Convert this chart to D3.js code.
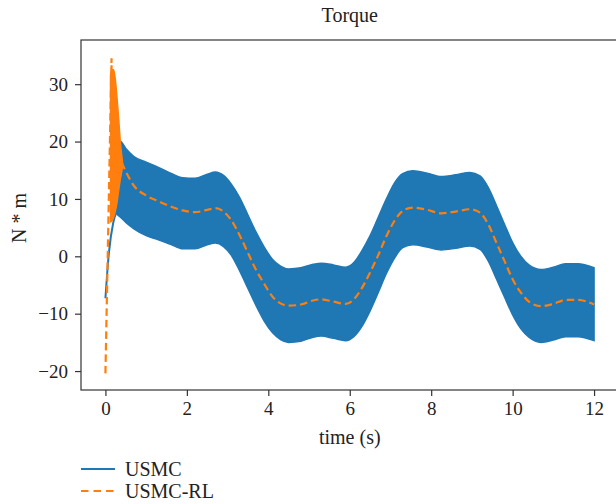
<!DOCTYPE html>
<html>
<head>
<meta charset="utf-8">
<script src="https://cdn.jsdelivr.net/npm/d3@7"></script>
<style>
  html, body { margin: 0; padding: 0; background: #fff; }
  svg { display: block; }
  text { font-family: "Liberation Serif", "Times New Roman", serif; fill: #222; }
</style>
</head>
<body>
<svg id="chart" width="616" height="504"></svg>
<script>
// ---- data ----
const xTicks = [0, 2, 4, 6, 8, 10, 12];
const yTicks = [-20, -10, 0, 10, 20, 30];

// USMC initial transient (single line before chattering band)
const usmcStartT = [0, 0.085, 0.19, 0.27];
const usmcStartV = [-7.3, 0.6, 5.8, 7.8];

// USMC chattering band envelope
const bandT = [0.27, 0.37, 0.5, 0.7, 1.0, 1.3, 1.6, 1.9, 2.2, 2.5, 2.7, 2.9, 3.1, 3.3, 3.5, 3.7, 3.9, 4.1, 4.3, 4.5, 4.8, 5.1, 5.3, 5.6, 5.9, 6.1, 6.3, 6.5, 6.7, 6.9, 7.1, 7.3, 7.55, 7.9, 8.25, 8.6, 8.95, 9.2, 9.4, 9.6, 9.8, 10.0, 10.2, 10.4, 10.7, 11.0, 11.3, 11.6, 12.0];
const bandUpper = [8.2, 20.0, 18.8, 17.4, 16.4, 15.5, 14.5, 13.7, 13.6, 14.3, 14.7, 14.1, 12.5, 10.2, 7.2, 4.2, 1.6, -0.5, -1.7, -2.2, -2.0, -1.4, -1.2, -1.5, -1.9, -1.1, 1.0, 3.6, 6.8, 10.0, 12.8, 14.4, 14.9, 14.5, 13.9, 14.2, 14.6, 14.0, 12.0, 8.9, 5.6, 2.4, 0.0, -1.5, -2.3, -1.9, -1.3, -1.3, -2.0];
const bandLower = [7.4, 6.8, 5.9, 4.8, 3.6, 2.9, 2.1, 1.3, 1.3, 2.0, 2.3, 1.7, 0.1, -2.6, -5.6, -8.6, -11.3, -13.3, -14.5, -15.0, -14.8, -14.1, -13.9, -14.3, -14.7, -14.0, -12.2, -9.5, -6.3, -3.0, -0.3, 1.5, 2.0, 1.6, 1.1, 1.4, 1.8, 1.2, -0.8, -3.9, -7.1, -10.2, -12.6, -14.1, -15.0, -14.6, -14.0, -14.0, -14.7];

// USMC-RL chattering blob (early transient)
const rlBlobT = [0.125, 0.16, 0.2, 0.24, 0.28, 0.32, 0.36, 0.42];
const rlBlobUpper = [31.5, 32.5, 32.5, 31.0, 28.0, 24.5, 20.5, 16.4];
const rlBlobLower = [6.0, 6.2, 6.8, 7.8, 9.2, 11.2, 13.2, 15.6];

// USMC-RL dashed line
const rlT = [0, 0.15, 0.16, 0.42, 0.5, 0.7, 1.0, 1.3, 1.6, 1.9, 2.2, 2.5, 2.7, 2.9, 3.1, 3.3, 3.5, 3.7, 3.9, 4.1, 4.3, 4.5, 4.8, 5.1, 5.3, 5.6, 5.9, 6.1, 6.3, 6.5, 6.7, 6.9, 7.1, 7.3, 7.55, 7.9, 8.25, 8.6, 8.95, 9.2, 9.4, 9.6, 9.8, 10.0, 10.2, 10.4, 10.7, 11.0, 11.3, 11.6, 12.0];
const rlV = [-20.4, 34.5, 6.5, 16.0, 14.8, 12.3, 10.6, 9.6, 8.7, 8.0, 7.7, 8.1, 8.4, 7.8, 6.2, 3.6, 0.6, -2.4, -4.8, -7.0, -8.2, -8.6, -8.4, -7.7, -7.5, -7.9, -8.3, -7.5, -5.5, -2.8, 0.2, 3.5, 6.2, 7.9, 8.5, 8.1, 7.5, 7.8, 8.2, 7.6, 5.6, 2.4, -0.8, -4.0, -6.3, -7.9, -8.7, -8.3, -7.6, -7.6, -8.4];

const seriesNames = ["USMC", "USMC-RL"];
const colors = ["#1f77b4", "#ff7f0e"];

// ---- layout ----
const svg = d3.select("#chart");
const mLeft = 81, mRight = 618.5, mTop = 40, mBottom = 390;
const x = d3.scaleLinear().domain([-0.6, 12.6]).range([mLeft, mRight]);
const y = d3.scaleLinear().domain([-23.3, 37.7]).range([mBottom, mTop]);

svg.append("defs").append("clipPath").attr("id", "clip")
  .append("rect").attr("x", mLeft).attr("y", mTop).attr("width", mRight - mLeft).attr("height", mBottom - mTop);

const plot = svg.append("g").attr("clip-path", "url(#clip)");

// USMC
const startPts = usmcStartT.map((t, i) => [t, usmcStartV[i]]);
plot.append("path")
  .attr("d", d3.line().x(d => x(d[0])).y(d => y(d[1])).curve(d3.curveMonotoneX)(startPts))
  .attr("fill", "none").attr("stroke", colors[0]).attr("stroke-width", 2);

const bandPts = bandT.map((t, i) => ({ t, u: bandUpper[i], l: bandLower[i] }));
plot.append("path")
  .attr("d", d3.area().x(d => x(d.t)).y0(d => y(d.l)).y1(d => y(d.u)).curve(d3.curveMonotoneX)(bandPts))
  .attr("fill", colors[0]).attr("stroke", colors[0]).attr("stroke-width", 1.5);

// USMC-RL
const blobPts = rlBlobT.map((t, i) => ({ t, u: rlBlobUpper[i], l: rlBlobLower[i] }));
plot.append("path")
  .attr("d", d3.area().x(d => x(d.t)).y0(d => y(d.l)).y1(d => y(d.u)).curve(d3.curveMonotoneX)(blobPts))
  .attr("fill", colors[1]).attr("stroke", colors[1]).attr("stroke-width", 1.5);

const rlPts = rlT.map((t, i) => [t, rlV[i]]);
const lineLin = d3.line().x(d => x(d[0])).y(d => y(d[1])).curve(d3.curveLinear);
const lineSmooth = d3.line().x(d => x(d[0])).y(d => y(d[1])).curve(d3.curveMonotoneX);
plot.append("path")
  .attr("d", lineLin(rlPts.slice(0, 4)) + lineSmooth(rlPts.slice(3)).replace(/^M/, "L"))
  .attr("fill", "none").attr("stroke", colors[1]).attr("stroke-width", 2.2)
  .attr("stroke-dasharray", "7.5,4");

// ---- axes ----
const fmt = d3.format("d");
const xAxis = svg.append("g").attr("transform", `translate(0,${mBottom})`)
  .call(d3.axisBottom(x).tickValues(xTicks).tickSize(6).tickPadding(6).tickFormat(fmt));
const yAxis = svg.append("g").attr("transform", `translate(${mLeft},0)`)
  .call(d3.axisLeft(y).tickValues(yTicks).tickSize(6).tickPadding(7).tickFormat(d => fmt(d).replace("-", "\u2212")));
[xAxis, yAxis].forEach(g => {
  g.select(".domain").remove();
  g.selectAll(".tick line").attr("stroke", "#333").attr("stroke-width", 1.2);
  g.selectAll(".tick text").attr("font-size", 19).attr("font-family", "Liberation Serif").attr("fill", "#222");
});

// frame
svg.append("rect").attr("x", mLeft).attr("y", mTop).attr("width", mRight - mLeft).attr("height", mBottom - mTop)
  .attr("fill", "none").attr("stroke", "#333").attr("stroke-width", 1.2);

// titles
svg.append("text").attr("x", (mLeft + mRight) / 2).attr("y", 22).attr("text-anchor", "middle")
  .attr("font-size", 20).text("Torque");
svg.append("text").attr("x", (mLeft + mRight) / 2).attr("y", 444).attr("text-anchor", "middle")
  .attr("font-size", 20).text("time (s)");
svg.append("text").attr("transform", `translate(26,218) rotate(-90)`).attr("text-anchor", "middle")
  .attr("font-size", 20).text("N * m");

// legend
const legY = [469, 491];
seriesNames.forEach((name, i) => {
  svg.append("line").attr("x1", 81).attr("x2", 115).attr("y1", legY[i]).attr("y2", legY[i])
    .attr("stroke", colors[i]).attr("stroke-width", 2)
    .attr("stroke-dasharray", i === 1 ? "7.5,5" : null);
  svg.append("text").attr("x", 125).attr("y", legY[i] + 7).attr("font-size", 20).text(name);
});
</script>
</body>
</html>
